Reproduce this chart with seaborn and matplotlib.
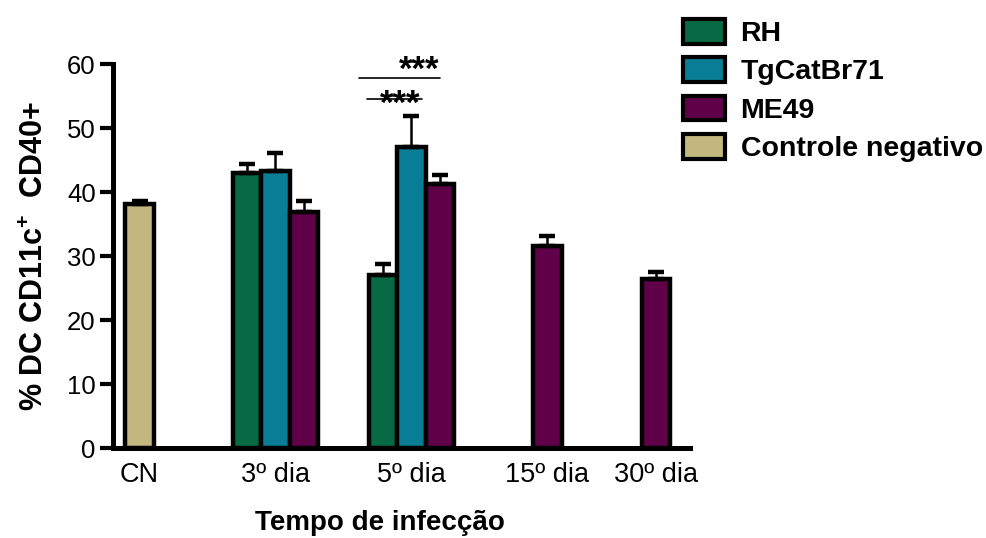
import numpy as np
import pandas as pd
import matplotlib
matplotlib.use("Agg")
import matplotlib.pyplot as plt
from matplotlib.patches import Patch
import seaborn as sns

# ---- data ---------------------------------------------------------------
groups = ["CN", "3º dia", "5º dia", "15º dia", "30º dia"]
strains = ["RH", "TgCatBr71", "ME49", "Controle negativo"]

bar_group = ["CN", "3º dia", "3º dia", "3º dia", "5º dia", "5º dia", "5º dia",
             "15º dia", "30º dia"]
bar_strain = ["Controle negativo", "RH", "TgCatBr71", "ME49", "RH", "TgCatBr71",
              "ME49", "ME49", "ME49"]
bar_mean = [38.1, 43.0, 43.3, 36.8, 27.1, 47.1, 41.3, 31.6, 26.4]
bar_sem = [0.5, 1.4, 2.8, 1.8, 1.6, 4.8, 1.4, 1.5, 1.1]

# ---- layout -------------------------------------------------------------
group_pos = {"CN": 0.0, "3º dia": 1.0, "5º dia": 2.0, "15º dia": 3.0, "30º dia": 3.8}
bar_w = 0.21

colors = {"RH": "#066b45", "TgCatBr71": "#0a7d96",
          "ME49": "#600049", "Controle negativo": "#c2b77e"}

df = pd.DataFrame({"grupo": bar_group, "cepa": bar_strain,
                   "media": bar_mean, "epm": bar_sem})
# bars within a group sit side by side, centred on the group position
df["n"] = df.groupby("grupo")["cepa"].transform("count")
df["k"] = df.groupby("grupo").cumcount()
df["x"] = df["grupo"].map(group_pos) + (df["k"] - (df["n"] - 1) / 2) * bar_w

sns.set_style("ticks")
plt.rcParams["font.family"] = ["Liberation Sans", "DejaVu Sans"]
plt.rcParams["mathtext.fontset"] = "custom"
plt.rcParams["mathtext.bf"] = "Liberation Sans:bold"
plt.rcParams["mathtext.rm"] = "Liberation Sans"
plt.rcParams["mathtext.default"] = "bf"
for key in ["text.color", "axes.labelcolor", "xtick.color", "ytick.color",
            "axes.edgecolor"]:
    plt.rcParams[key] = "black"

fig = plt.figure(figsize=(9.86, 5.38), dpi=100)
ax = fig.add_axes([113 / 986, 1 - 448 / 538, 577 / 986, 384 / 538])

sns.barplot(data=df, x="x", y="media", hue="cepa", hue_order=strains,
            palette=colors, saturation=1, native_scale=True, dodge=False,
            width=1.0, errorbar=None, edgecolor="black", linewidth=3.2,
            legend=False, ax=ax)

ax.errorbar(df["x"], df["media"], yerr=[np.zeros(len(df)), df["epm"]],
            fmt="none", ecolor="black", elinewidth=1.8, capsize=5.5,
            capthick=3.2, zorder=1)

ax.set_xlim(-0.195, 4.05)
ax.set_ylim(0, 60)
ax.set_yticks(np.arange(0, 61, 10))
ax.set_xticks([group_pos[g] for g in groups])
ax.set_xticklabels(groups)
ax.tick_params(axis="y", length=9.5, width=3, labelsize=18.5, pad=3)
ax.tick_params(axis="x", length=0, labelsize=19.5, pad=10)
for s in ["top", "right"]:
    ax.spines[s].set_visible(False)
for s in ["left", "bottom"]:
    ax.spines[s].set_linewidth(3.6)

ax.set_ylabel(r"% DC CD11c$^{+}$  CD40+", fontsize=22, fontweight="bold",
              labelpad=12)
ax.set_xlabel("")
fig.text(380 / 986, 1 - 523 / 538, "Tempo de infecção", fontsize=20,
         fontweight="bold", ha="center", va="center")

# significance marks over the 5º dia group
ax.plot([1.614, 2.21], [57.8, 57.8], color="black", lw=1.2, clip_on=False)
ax.text(2.205, 56.5, "***", ha="right", va="bottom", fontsize=25,
        fontweight="bold", clip_on=False)
ax.plot([1.673, 2.077], [54.6, 54.6], color="black", lw=1.2, clip_on=False)
ax.text(1.92, 53.7, "***", ha="center", va="center", fontsize=25,
        fontweight="bold", clip_on=False)

handles = [Patch(facecolor=colors[s], edgecolor="black", linewidth=3, label=s)
           for s in strains]
leg = fig.legend(handles=handles, loc="upper left",
                 bbox_to_anchor=(683 / 986, 1 - 19 / 538), frameon=False,
                 prop={"family": "Liberation Sans", "weight": "bold", "size": 20.5},
                 handlelength=1.47, handleheight=0.95, handletextpad=0.55,
                 labelspacing=0.36, borderpad=0, borderaxespad=0)

fig.savefig("out.png", dpi=100)
